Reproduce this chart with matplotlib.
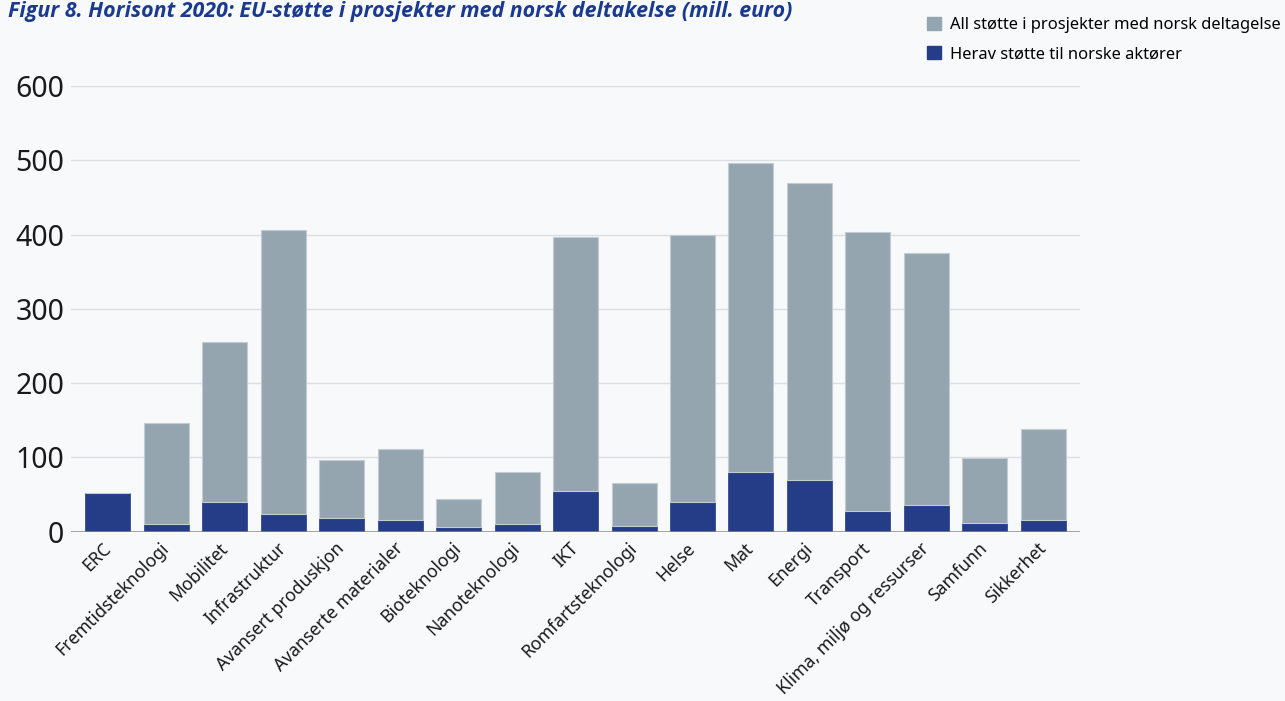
import matplotlib
matplotlib.use("Agg")
import matplotlib.pyplot as plt
from matplotlib.patches import Patch

categories = ["ERC", "Fremtidsteknologi", "Mobilitet", "Infrastruktur", "Avansert produskjon",
              "Avanserte materialer", "Bioteknologi", "Nanoteknologi", "IKT", "Romfartsteknologi",
              "Helse", "Mat", "Energi", "Transport", "Klima, miljø og ressurser", "Samfunn", "Sikkerhet"]
total = [52, 146, 255, 407, 97, 111, 44, 81, 397, 65, 399, 497, 469, 403, 375, 99, 139]
norsk = [52, 10, 40, 24, 18, 16, 6, 10, 55, 8, 40, 81, 69, 28, 36, 12, 16]
yticks = [0, 100, 200, 300, 400, 500, 600]

title = "Figur 8. Horisont 2020: EU-støtte i prosjekter med norsk deltakelse (mill. euro)"
legend_labels = ["All støtte i prosjekter med norsk deltagelse", "Herav støtte til norske aktører"]

bg = "#f7f9fb"
gray = "#94a5b0"
blue = "#253c87"

plt.rcParams['font.family'] = ['Noto Sans', 'DejaVu Sans']

fig = plt.figure(figsize=(12.85, 7.01), dpi=100, facecolor=bg)
ax = fig.add_axes([0.0553, 0.2415, 0.7852, 0.6355], facecolor=bg)

x = list(range(len(categories)))
rest = [t - n for t, n in zip(total, norsk)]
ax.bar(x, norsk, width=0.77, color=blue, edgecolor=blue, linewidth=0.5, zorder=3)
ax.bar(x, rest, bottom=norsk, width=0.77, color=gray, edgecolor="#c3ccd3", linewidth=0.8, zorder=3)

ax.set_xlim(-0.63, 16.63)
ax.set_ylim(0, 600)
ax.set_yticks(yticks)
ax.set_yticklabels([str(v) for v in yticks], fontsize=20.5, color="#1a1a1a")
for v in yticks[1:]:
    ax.axhline(v, color="#dcdfe2", linewidth=1.0, zorder=1)
ax.axhline(0, color="#8a8a8a", linewidth=1.8, zorder=4)

ax.set_xticks(x)
ax.set_xticklabels(categories, rotation=45, ha="right", va="center", rotation_mode="anchor",
                   fontsize=12.7, color="#1a1a1a")
ax.tick_params(axis="y", length=0, pad=5)
ax.tick_params(axis="x", length=0, pad=10)
for s in ax.spines.values():
    s.set_visible(False)

fig.text(0.006, 0.999, title, fontsize=15.4, fontweight="bold", style="italic",
         family=["Open Sans", "DejaVu Sans"], color="#1a3a8f", ha="left", va="top")

handles = [Patch(facecolor=gray, edgecolor=gray), Patch(facecolor=blue, edgecolor=blue)]
fig.legend(handles, legend_labels, loc="upper left", bbox_to_anchor=(0.716, 0.985),
           frameon=False, fontsize=11.9, handlelength=0.85, handleheight=0.85,
           handletextpad=0.55, labelspacing=0.75, borderaxespad=0)

fig.savefig("out.png", dpi=100, facecolor=bg)
